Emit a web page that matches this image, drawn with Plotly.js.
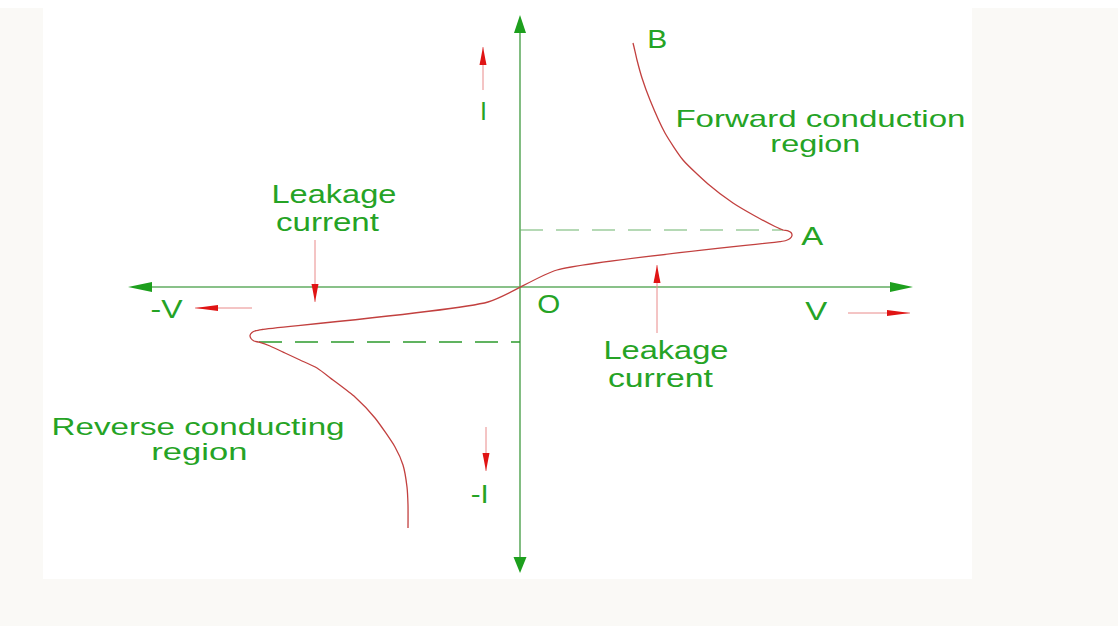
<!DOCTYPE html>
<html>
<head>
<meta charset="utf-8">
<script src="https://cdn.plot.ly/plotly-3.0.1.min.js"></script>
<style>
  html, body { margin: 0; padding: 0; background: #faf9f6; }
  #chart { width: 1118px; height: 626px; }
</style>
</head>
<body>
<div id="chart"></div>
<script>
// ---- Data (V–I characteristic, arbitrary units: V to the right, I upward) ----
// Curve from point B (top) down to A, back through the origin O,
// out to the reverse breakover tip and down the reverse conducting branch.
const curveV = [11.3, 11.4, 11.7, 12.2, 13.0, 14.5, 16.3, 18.8, 21.3, 23.5, 25.5, 26.3,
                26.8, 27.1, 27.2, 27.0, 26.6, 26.0, 3.7, -3.2, -25.8, -26.4, -26.8, -27.0,
                -26.9, -26.6, -26.1, -25.0, -23.5, -22.0, -20.3, -18.7, -16.5, -14.5,
                -12.5, -11.7, -11.3, -11.2, -11.2];
const curveI = [24.4, 24.0, 22.7, 20.9, 18.7, 15.4, 12.7, 10.3, 8.4, 7.1, 6.05, 5.7,
                5.62, 5.45, 5.15, 4.85, 4.65, 4.54, 1.7, -1.5, -4.25, -4.36, -4.55, -4.85,
                -5.15, -5.4, -5.52, -5.9, -6.6, -7.3, -8.1, -9.3, -11.0, -13.1,
                -16.0, -17.8, -20.0, -21.8, -24.1];

// Breakover levels (dashed reference lines)
const forwardBreakV = 26.3, forwardBreakI = 5.7;
const reverseBreakV = -26.1, reverseBreakI = -5.5;

// Axis extents (arrow tips)
const axisV = [-39.2, 39.3];
const axisI = [-28.6, 27.2];

// Text labels (one entry per text line)
const labelTexts = ["Forward conduction", "region", "Leakage", "current", "Leakage", "current",
                    "Reverse conducting", "region", "A", "B", "O", "V", "-V", "I", "-I"];

// ---- Layout / drawing ----
const PX = 10; // pixels per unit on both axes
const green = '#25a325', axisGreen = '#62ad62', red = '#e01414', redShaft = '#e98a8a';

// label placement: [V, I, font size, rendered width px (0 = natural)]
const labelPos = [
  [30.0, 16.85, 24, 290], [29.5, 14.35, 24, 90], [-18.6, 9.3, 26, 125], [-19.2, 6.5, 26, 103],
  [14.6, -6.3, 26, 125], [14.1, -9.1, 26, 105], [-32.2, -13.95, 24, 293], [-32.1, -16.45, 24, 96],
  [29.2, 5.07, 25, 22], [13.7, 24.77, 25, 20], [2.8, -1.67, 25, 23], [29.6, -2.37, 25, 22],
  [-35.4, -2.17, 25, 32], [-3.7, 17.57, 25, 0], [-4.1, -20.73, 25, 18]
];

function headPath(tv, ti, dir, lenPx, widPx) {
  const L = lenPx / PX, W = widPx / PX / 2;
  let p;
  if (dir === 'up') p = [[tv, ti], [tv - W, ti - L], [tv + W, ti - L]];
  else if (dir === 'down') p = [[tv, ti], [tv - W, ti + L], [tv + W, ti + L]];
  else if (dir === 'left') p = [[tv, ti], [tv + L, ti + W], [tv + L, ti - W]];
  else p = [[tv, ti], [tv - L, ti + W], [tv - L, ti - W]];
  return 'M' + p.map(q => q[0] + ',' + q[1]).join(' L') + ' Z';
}

const shapes = [
  // white drawing sheet
  {type: 'rect', xref: 'paper', yref: 'paper', x0: 43/1118, x1: 972/1118, y0: 1 - 579/626, y1: 1 - 8/626,
   fillcolor: '#ffffff', line: {width: 0}, layer: 'below'},
  {type: 'rect', xref: 'paper', yref: 'paper', x0: 0, x1: 1, y0: 1 - 8/626, y1: 1,
   fillcolor: '#ffffff', line: {width: 0}, layer: 'below'}
];

// axis arrowheads
const axisHeads = [
  [axisV[0], 0, 'left', 24, 10], [axisV[1], 0, 'right', 23, 10],
  [0, axisI[1], 'up', 18, 12], [0, axisI[0], 'down', 16, 13]
];
axisHeads.forEach(h => shapes.push({type: 'path', xref: 'x', yref: 'y', path: headPath(...h),
  fillcolor: '#1d9f1d', line: {width: 0}}));

// small red direction / pointer arrows: tip V, tip I, direction, shaft length (px)
const redArrows = [
  [-3.7, 24.0, 'up', 43], [-3.4, -18.4, 'down', 44],
  [-32.5, -2.1, 'left', 57], [39.0, -2.6, 'right', 62],
  [-20.5, -1.5, 'down', 62], [13.7, 2.2, 'up', 68]
];
redArrows.forEach(a => {
  const [tv, ti, dir, len] = a, L = len / PX;
  let x1 = tv, y1 = ti;
  if (dir === 'up') y1 = ti - L; else if (dir === 'down') y1 = ti + L;
  else if (dir === 'left') x1 = tv + L; else x1 = tv - L;
  shapes.push({type: 'line', xref: 'x', yref: 'y', x0: tv, y0: ti, x1: x1, y1: y1,
    line: {color: redShaft, width: 1}});
  const horiz = (dir === 'left' || dir === 'right');
  shapes.push({type: 'path', xref: 'x', yref: 'y',
    path: headPath(tv, ti, dir, horiz ? 23 : 18, horiz ? 6 : 7),
    fillcolor: red, line: {width: 0}});
});

const traces = [
  // axes
  {x: [axisV[0] + 2.0, axisV[1] - 2.0], y: [0, 0], mode: 'lines', line: {color: axisGreen, width: 1.6}, hoverinfo: 'skip'},
  {x: [0, 0], y: [axisI[0] + 1.4, axisI[1] - 1.6], mode: 'lines', line: {color: axisGreen, width: 1.6}, hoverinfo: 'skip'},
  // breakover dashed lines
  {x: [0, forwardBreakV], y: [forwardBreakI, forwardBreakI], mode: 'lines',
   line: {color: '#6cb46c', width: 1.1, dash: '23px,13px'}, hoverinfo: 'skip'},
  {x: [reverseBreakV, 0], y: [reverseBreakI, reverseBreakI], mode: 'lines',
   line: {color: '#2c9a2c', width: 1.3, dash: '23px,13px'}, hoverinfo: 'skip'},
  // characteristic curve
  {x: curveV, y: curveI, mode: 'lines', line: {color: '#c2403f', width: 1.3, shape: 'spline', smoothing: 0.6},
   hoverinfo: 'skip'}
];

const annotations = labelTexts.map((t, k) => ({
  x: labelPos[k][0], y: labelPos[k][1], xref: 'x', yref: 'y', text: t, showarrow: false,
  xanchor: 'center', yanchor: 'middle',
  font: {family: 'Liberation Sans, Arial, Helvetica, sans-serif', size: labelPos[k][2], color: green}
}));

const layout = {
  width: 1118, height: 626,
  margin: {l: 0, r: 0, t: 0, b: 0, pad: 0},
  paper_bgcolor: '#faf9f6', plot_bgcolor: 'rgba(0,0,0,0)',
  showlegend: false,
  xaxis: {range: [-52, 59.8], visible: false, fixedrange: true},
  yaxis: {range: [-33.9, 28.7], visible: false, fixedrange: true},
  shapes: shapes,
  annotations: annotations
};

Plotly.newPlot('chart', traces, layout, {displayModeBar: false, staticPlot: true}).then(gd => {
  // the reference lettering is horizontally wide: stretch each label to its measured width
  gd.querySelectorAll('.annotation').forEach(g => {
    const idx = +g.getAttribute('data-index');
    const w = labelPos[idx] && labelPos[idx][3];
    const t = g.querySelector('text.annotation-text');
    if (t && w) {
      t.setAttribute('textLength', w);
      t.setAttribute('lengthAdjust', 'spacingAndGlyphs');
    }
  });
});
</script>
</body>
</html>
